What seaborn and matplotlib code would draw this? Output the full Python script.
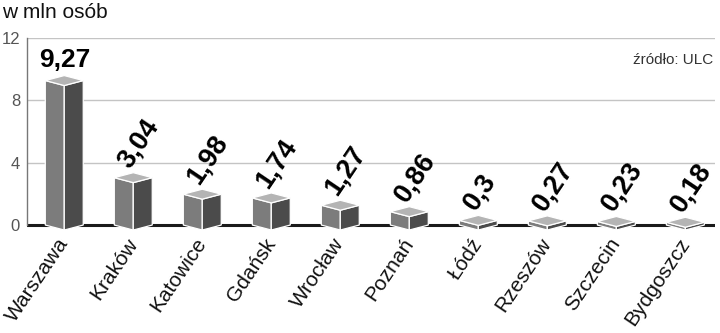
import matplotlib
matplotlib.use("Agg")
import matplotlib.pyplot as plt
from matplotlib.patches import Polygon
import seaborn as sns
import pandas as pd

cities = ["Warszawa", "Kraków", "Katowice", "Gdańsk", "Wrocław",
          "Poznań", "Łódź", "Rzeszów", "Szczecin", "Bydgoszcz"]
values = [9.27, 3.04, 1.98, 1.74, 1.27, 0.86, 0.3, 0.27, 0.23, 0.18]
labels = ["9,27", "3,04", "1,98", "1,74", "1,27", "0,86", "0,3", "0,27", "0,23", "0,18"]
yticks = [0, 4, 8, 12]
title = "w mln osób"
source = "źródło: ULC"

sns.set_theme(style="white")
plt.rcParams["font.family"] = ["Liberation Sans", "DejaVu Sans"]

df = pd.DataFrame({"city": cities, "value": values})

fig = plt.figure(figsize=(7.2, 3.33), dpi=100)
ax = fig.add_axes([27/720, (333-234.4)/333, (715-27)/720, (234.4-38)/333])

sns.barplot(data=df, x="city", y="value", color="#7a7a7a", width=0.55,
            ax=ax, saturation=1, zorder=3)

d = 0.32
FRONT, SIDE, TOP = "#7c7c7c", "#4b4b4b", "#b4b4b4"
for p in ax.patches:
    x0, w, h = p.get_x(), p.get_width(), p.get_height()
    p.set_visible(False)
    xl, xc, xr = x0, x0 + w / 2, x0 + w
    left = Polygon([(xl, 0), (xc, -d), (xc, h - d), (xl, h)], closed=True,
                   facecolor=FRONT, edgecolor="white", lw=0.9, zorder=4)
    right = Polygon([(xc, -d), (xr, 0), (xr, h), (xc, h - d)], closed=True,
                    facecolor=SIDE, edgecolor="white", lw=0.9, zorder=4)
    top = Polygon([(xl, h), (xc, h + d), (xr, h), (xc, h - d)], closed=True,
                  facecolor=TOP, edgecolor="white", lw=0.9, zorder=4)
    for poly in (left, right, top):
        poly.set_clip_on(False)
        ax.add_patch(poly)

# value labels
for i, (v, lab) in enumerate(zip(values, labels)):
    if i == 0:
        ax.text(i, v + 1.3, lab, ha="center", va="center", fontsize=19,
                fontweight="bold", color="black", zorder=6)
    else:
        ax.text(i - 0.05, v + 0.55, lab, ha="left", va="baseline",
                rotation=56, rotation_mode="anchor", fontsize=19.5,
                fontweight="bold", color="black", zorder=6)

ax.set_xlim(-0.54, 9.43)
ax.set_ylim(-0.6, 12)
ax.set_yticks(yticks)
ax.set_yticklabels([str(t) for t in yticks], fontsize=12, color="#555555")
ax.tick_params(axis="y", length=0, pad=5)
ax.tick_params(axis="x", length=0, pad=4)
ax.set_xticks(range(len(cities)))
ax.set_xticklabels(cities, rotation=56, ha="right", va="center",
                   rotation_mode="anchor", fontsize=15, color="#111111")
ax.set_xlabel("")
ax.set_ylabel("")

for t in [4, 8, 12]:
    ax.axhline(t, color="#c4c4c4", lw=1, zorder=1)
ax.axhline(0, color="#1a1a1a", lw=2.2, zorder=2)

for s in ["top", "right", "bottom"]:
    ax.spines[s].set_visible(False)
ax.spines["left"].set_bounds(0, 12)
ax.spines["left"].set_color("#777777")
ax.spines["left"].set_linewidth(1)
ax.grid(False)

fig.text(2/720, 1 - 13/333, title, ha="left", va="center", fontsize=15,
         color="#111111")
ax.text(0.998, (225-60)/15.58 / 12.6 + 0.6/12.6, source, transform=ax.transAxes,
        ha="right", va="center", fontsize=11, color="#333333")

fig.savefig("out.png", dpi=100)
